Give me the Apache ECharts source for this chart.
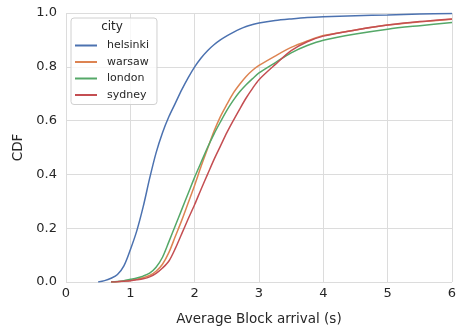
<!DOCTYPE html>
<html>
<head>
<meta charset="utf-8">
<script src="https://cdn.jsdelivr.net/npm/echarts@6/dist/echarts.min.js"></script>
<style>html,body{margin:0;padding:0;background:#fff}#c{width:466px;height:331px}</style>
</head>
<body>
<div id="c"></div>
<script>
const cities = ['helsinki', 'warsaw', 'london', 'sydney'];
const colors = ['#4c72b0', '#dd8452', '#55a868', '#c44e52'];
const xTicks = [0, 1, 2, 3, 4, 5, 6];
const yTicks = [0.0, 0.2, 0.4, 0.6, 0.8, 1.0];

const helsinkiX = [0.5, 0.6, 0.7, 0.8, 0.9, 1.0, 1.1, 1.2, 1.3, 1.4, 1.5, 1.6, 1.7, 1.8, 1.9, 2.0, 2.1, 2.2, 2.3, 2.4, 2.5, 2.6, 2.7, 2.8, 2.9, 3.0, 3.25, 3.5, 3.75, 4.0, 4.5, 5.0, 5.5, 6.0];
const helsinkiY = [0, 0.005, 0.014, 0.028, 0.06, 0.12, 0.19, 0.28, 0.385, 0.48, 0.555, 0.615, 0.665, 0.715, 0.76, 0.80, 0.833, 0.86, 0.882, 0.9, 0.915, 0.928, 0.94, 0.95, 0.957, 0.963, 0.972, 0.978, 0.983, 0.986, 0.99, 0.993, 0.996, 0.998];

const othersX = [0.7, 0.8, 0.9, 1.0, 1.1, 1.2, 1.3, 1.4, 1.5, 1.6, 1.7, 1.8, 1.9, 2.0, 2.1, 2.2, 2.3, 2.4, 2.5, 2.6, 2.7, 2.8, 2.9, 3.0, 3.25, 3.5, 3.75, 4.0, 4.5, 5.0, 5.5, 6.0];
const warsawY = [0, 0.001, 0.003, 0.006, 0.01, 0.016, 0.024, 0.04, 0.066, 0.11, 0.17, 0.23, 0.295, 0.36, 0.43, 0.495, 0.56, 0.615, 0.66, 0.702, 0.735, 0.764, 0.787, 0.805, 0.84, 0.872, 0.896, 0.916, 0.937, 0.955, 0.967, 0.977];
const londonY = [0, 0.002, 0.005, 0.01, 0.015, 0.022, 0.033, 0.055, 0.092, 0.15, 0.21, 0.27, 0.33, 0.39, 0.445, 0.5, 0.55, 0.595, 0.638, 0.675, 0.707, 0.733, 0.756, 0.777, 0.815, 0.852, 0.879, 0.899, 0.922, 0.94, 0.953, 0.965];
const sydneyY = [0, 0.001, 0.003, 0.005, 0.008, 0.012, 0.019, 0.032, 0.052, 0.078, 0.125, 0.18, 0.235, 0.288, 0.345, 0.4, 0.455, 0.505, 0.555, 0.6, 0.643, 0.684, 0.72, 0.752, 0.808, 0.86, 0.893, 0.914, 0.937, 0.955, 0.968, 0.978];

const seriesX = [helsinkiX, othersX, othersX, othersX];
const seriesY = [helsinkiY, warsawY, londonY, sydneyY];

const textColor = '#262626';
const gridColor = '#dcdcdc';
const font = 'DejaVu Sans';

const chart = echarts.init(document.getElementById('c'), null, {renderer: 'canvas'});
chart.setOption({
  animation: false,
  backgroundColor: '#ffffff',
  textStyle: {fontFamily: font},
  title: {
    text: 'city',
    left: 112, top: 21, padding: 0,
    textAlign: 'center',
    textStyle: {fontFamily: font, fontSize: 12, fontWeight: 'normal', color: textColor}
  },
  legend: {
    orient: 'vertical',
    left: 71, top: 18,
    padding: [22, 8, 4, 4],
    itemGap: 5.5,
    itemWidth: 22, itemHeight: 2,
    icon: 'rect',
    backgroundColor: 'rgba(255,255,255,0.8)',
    borderColor: '#d0d0d0', borderWidth: 1, borderRadius: 3,
    textStyle: {fontFamily: font, fontSize: 11, color: textColor, padding: [0, 0, 0, 5]},
    data: cities
  },
  grid: {left: 66, right: 14, top: 13, bottom: 44, containLabel: false},
  xAxis: {
    type: 'value', min: xTicks[0], max: xTicks[xTicks.length - 1], interval: 1,
    name: 'Average Block arrival (s)', nameLocation: 'middle', nameGap: 30,
    nameTextStyle: {fontFamily: font, fontSize: 13.5, color: textColor},
    axisLine: {show: false}, axisTick: {show: false},
    axisLabel: {margin: 5, fontFamily: font, fontSize: 13, color: textColor},
    splitLine: {show: true, lineStyle: {color: gridColor, width: 1}}
  },
  yAxis: {
    type: 'value', min: yTicks[0], max: yTicks[yTicks.length - 1], interval: 0.2,
    name: 'CDF', nameLocation: 'middle', nameGap: 29,
    nameTextStyle: {fontFamily: font, fontSize: 13.5, color: textColor},
    axisLine: {show: false}, axisTick: {show: false},
    axisLabel: {margin: 9, fontFamily: font, fontSize: 13, color: textColor, formatter: v => v.toFixed(1)},
    splitLine: {show: true, lineStyle: {color: gridColor, width: 1}}
  },
  series: cities.map((c, i) => ({
    name: c, type: 'line', showSymbol: false, symbol: 'none',
    smooth: 0.3,
    color: colors[i],
    lineStyle: {color: colors[i], width: 1.5},
    data: seriesX[i].map((x, j) => [x, seriesY[i][j]])
  }))
});
</script>
</body>
</html>
